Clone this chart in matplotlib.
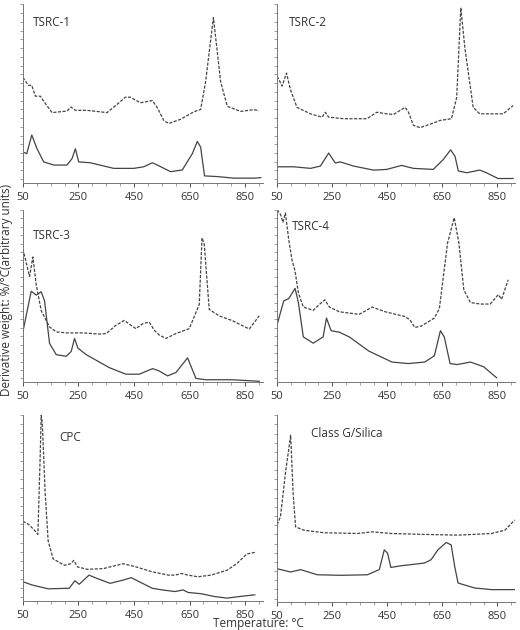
import matplotlib
matplotlib.use("Agg")
import matplotlib.pyplot as plt
from matplotlib.ticker import MultipleLocator

# Temperature (°C) / derivative weight (arbitrary, 0-100)
t1_dash_x = [50, 70, 82, 95, 113, 125, 155, 209, 223, 239, 281, 353, 389, 419, 437, 473, 516, 534, 558, 576, 618, 666, 690, 708, 736, 762, 786, 834, 882, 900]
t1_dash_y = [58.2, 53.7, 53.7, 47.5, 47.5, 44.6, 38.1, 39.0, 41.3, 39.4, 39.4, 38.1, 42.8, 46.9, 46.9, 43.7, 45.0, 40.9, 33.4, 31.9, 34.3, 38.6, 39.9, 55.8, 92.5, 55.8, 41.7, 38.8, 39.8, 39.2]
t1_sol_x = [50, 64, 82, 101, 125, 161, 209, 227, 239, 251, 293, 377, 449, 485, 516, 534, 582, 624, 660, 678, 690, 704, 750, 810, 882, 907]
t1_sol_y = [15.6, 14.6, 25.3, 17.4, 9.9, 8.1, 8.1, 11.8, 17.4, 9.9, 9.4, 6.2, 6.2, 7.1, 9.4, 8.1, 4.3, 5.3, 14.6, 21.6, 18.4, 1.9, 1.5, 0.6, 0.6, 0.9]

t2_dash_x = [50, 68, 84, 98, 122, 171, 213, 225, 237, 291, 376, 412, 448, 472, 515, 527, 545, 569, 617, 641, 683, 702, 717, 732, 762, 786, 834, 871, 907]
t2_dash_y = [58.9, 53.3, 60.7, 51.4, 41.1, 37.4, 35.5, 38.3, 35.5, 34.6, 34.6, 38.3, 37.4, 37.0, 41.1, 38.3, 30.8, 29.5, 32.1, 33.6, 34.6, 46.7, 98.1, 74.8, 41.1, 37.4, 37.4, 37.4, 42.1]
t2_sol_x = [50, 110, 171, 207, 237, 261, 279, 328, 400, 448, 502, 545, 617, 653, 680, 696, 708, 738, 786, 810, 852, 907]
t2_sol_y = [7.1, 7.1, 6.2, 7.5, 14.95, 9.3, 9.9, 7.5, 5.2, 5.6, 7.9, 6.2, 5.6, 11.2, 16.8, 13.1, 4.7, 3.7, 5.2, 3.7, 0.4, 0.4]

t3_dash_x = [50, 74, 86, 98, 116, 146, 170, 206, 266, 326, 350, 385, 415, 439, 457, 481, 505, 523, 541, 565, 601, 649, 685, 695, 703, 721, 757, 805, 865, 901]
t3_dash_y = [76.8, 60.4, 72.0, 55.6, 40.2, 30.5, 27.6, 27.0, 27.0, 26.3, 26.6, 31.5, 34.4, 31.5, 29.5, 32.4, 33.4, 28.6, 25.7, 23.7, 26.6, 29.5, 43.8, 83.4, 79.5, 40.9, 37.1, 34.2, 29.3, 37.1]
t3_sol_x = [50, 68, 80, 98, 116, 128, 146, 170, 206, 224, 236, 248, 278, 361, 421, 469, 517, 541, 571, 601, 643, 655, 673, 709, 805, 901]
t3_sol_y = [27.6, 42.1, 51.7, 49.4, 51.4, 46.0, 20.8, 14.1, 13.1, 16.0, 23.7, 18.0, 14.1, 6.4, 2.5, 2.5, 5.8, 4.4, 1.5, 3.5, 12.2, 7.3, 0.0, -0.8, -0.8, -1.7]

t4_dash_x = [50, 62, 71, 80, 92, 104, 115, 127, 145, 181, 205, 223, 240, 276, 348, 395, 443, 514, 532, 550, 574, 621, 639, 669, 693, 710, 728, 752, 788, 824, 853, 865, 889]
t4_dash_y = [100, 97.2, 92.6, 98.1, 82.3, 70.2, 63.7, 50.7, 42.3, 40.4, 44.1, 46.6, 42.3, 39.5, 38.0, 42.3, 39.5, 36.7, 34.8, 30.2, 31.1, 35.8, 41.3, 80.4, 95.3, 80.4, 52.5, 45.0, 44.1, 44.1, 49.7, 46.9, 58.5]
t4_sol_x = [50, 74, 92, 115, 127, 145, 181, 217, 229, 246, 276, 312, 383, 467, 526, 586, 621, 643, 657, 678, 704, 752, 800, 847]
t4_sol_y = [32.0, 46.0, 47.3, 53.4, 45.1, 24.6, 20.9, 24.6, 35.8, 28.3, 27.4, 24.6, 16.2, 9.7, 8.8, 9.7, 13.4, 28.3, 24.6, 8.8, 8.2, 9.7, 6.9, 0.4]

cpc_dash_x = [50, 71, 89, 104, 112, 116, 120, 130, 141, 159, 200, 223, 233, 247, 282, 340, 411, 458, 516, 575, 598, 621, 645, 680, 727, 785, 820, 856, 885]
cpc_dash_y = [41.8, 40.0, 37.3, 34.6, 75.8, 100, 95.5, 57.9, 31.0, 21.1, 17.6, 18.5, 20.3, 16.7, 15.4, 15.8, 18.5, 16.7, 14.0, 12.2, 12.2, 13.1, 12.2, 11.3, 12.2, 14.9, 18.5, 23.8, 24.7]
cpc_sol_x = [50, 83, 141, 217, 237, 253, 288, 317, 364, 411, 440, 469, 516, 551, 598, 627, 645, 692, 739, 785, 832, 885]
cpc_sol_y = [8.6, 6.8, 4.7, 5.0, 9.1, 7.2, 12.2, 10.4, 7.7, 9.5, 10.8, 8.6, 5.0, 4.1, 3.2, 4.1, 2.7, 2.0, 0.5, -0.4, 0.5, 1.4]

cg_dash_x = [50, 62, 80, 99, 108, 117, 147, 220, 342, 397, 463, 585, 707, 828, 877, 913]
cg_dash_y = [40.2, 44.7, 68.3, 89.1, 57.2, 39.1, 37.3, 35.9, 35.5, 36.4, 35.5, 35.0, 34.6, 35.5, 37.3, 42.9]
cg_sol_x = [50, 99, 135, 196, 281, 378, 421, 439, 451, 463, 500, 585, 609, 634, 664, 682, 695, 707, 767, 828, 913]
cg_sol_y = [16.3, 14.5, 15.8, 13.0, 12.7, 13.0, 15.8, 26.6, 24.8, 17.0, 17.9, 19.4, 21.2, 26.6, 30.6, 29.3, 17.4, 8.5, 5.8, 4.9, 4.9]

titles = ["TSRC-1", "TSRC-2", "TSRC-3", "TSRC-4", "CPC", "Class G/Silica"]
xticks = [50, 250, 450, 650, 850]

panels = [
    (t1_dash_x, t1_dash_y, t1_sol_x, t1_sol_y),
    (t2_dash_x, t2_dash_y, t2_sol_x, t2_sol_y),
    (t3_dash_x, t3_dash_y, t3_sol_x, t3_sol_y),
    (t4_dash_x, t4_dash_y, t4_sol_x, t4_sol_y),
    (cpc_dash_x, cpc_dash_y, cpc_sol_x, cpc_sol_y),
    (cg_dash_x, cg_dash_y, cg_sol_x, cg_sol_y),
]

# axes rectangles in figure fractions
rects = [
    (0.044, 0.710, 0.462, 0.283), (0.533, 0.710, 0.458, 0.283),
    (0.044, 0.394, 0.462, 0.273), (0.533, 0.394, 0.458, 0.273),
    (0.044, 0.046, 0.462, 0.295), (0.533, 0.044, 0.458, 0.297),
]
title_pos = [(0.04, 0.9), (0.05, 0.9), (0.04, 0.85), (0.06, 0.9), (0.15, 0.88), (0.14, 0.9)]

plt.rcParams["font.family"] = ["Open Sans", "DejaVu Sans"]
fig = plt.figure(figsize=(5.2, 6.3), dpi=100)
line_col = "#444444"

for i, (dx, dy, sx, sy) in enumerate(panels):
    ax = fig.add_axes(rects[i])
    ax.plot(dx, dy, color=line_col, lw=0.9, dashes=(2.5, 1.2))
    ax.plot(sx, sy, color=line_col, lw=0.9)
    ax.set_xlim(50, 915)
    ax.set_ylim(-2, 100)
    ax.set_xticks(xticks)
    ax.xaxis.set_minor_locator(MultipleLocator(50))
    ax.set_yticks([])
    ax.yaxis.set_minor_locator(MultipleLocator(5))
    ax.tick_params(axis="x", labelsize=8, colors="#333333", length=3, width=0.6)
    ax.tick_params(axis="both", which="minor", length=2, width=0.5, color="#777777")
    for s in ("top", "right"):
        ax.spines[s].set_visible(False)
    for s in ("left", "bottom"):
        ax.spines[s].set_color("#777777")
        ax.spines[s].set_linewidth(0.7)
    ax.text(title_pos[i][0], title_pos[i][1], titles[i], transform=ax.transAxes,
            fontsize=8.5, color="#333333", va="center")

fig.text(0.012, 0.54, "Derivative weight: %/°C(arbitrary units)", rotation=90,
         ha="center", va="center", fontsize=8.5, color="#333333")
fig.text(0.497, 0.011, "Temperature: °C", ha="center", va="center",
         fontsize=8.5, color="#333333")

fig.savefig("out.png", dpi=100)
